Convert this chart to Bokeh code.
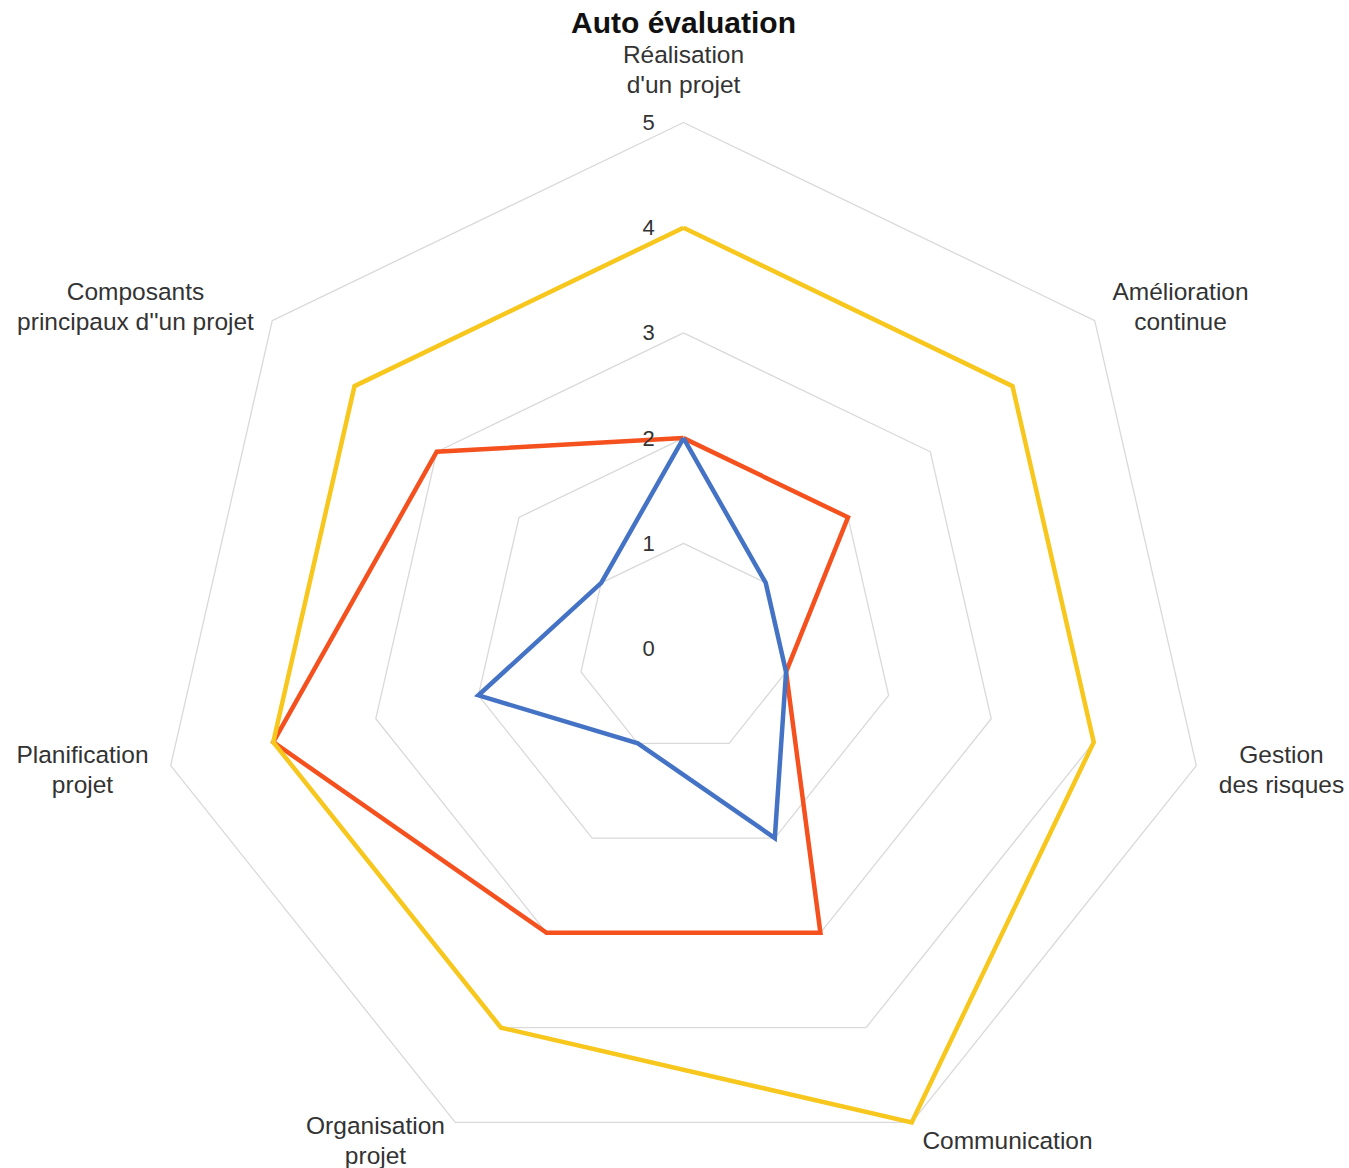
import math
from bokeh.plotting import figure
from bokeh.models import Range1d
from bokeh.core.properties import value
from bokeh.embed import file_html
from bokeh.resources import INLINE

# ---- data ----
categories = [
    "Réalisation\nd'un projet",
    "Amélioration\ncontinue",
    "Gestion\ndes risques",
    "Communication",
    "Organisation\nprojet",
    "Planification\nprojet",
    "Composants\nprincipaux d''un projet",
]
series_yellow = [4, 4, 4, 5, 4, 4, 4]
series_red = [2, 2, 1, 3, 3, 4, 3]
series_blue = [2, 1, 1, 2, 1, 2, 1]
tick_values = [0, 1, 2, 3, 4, 5]
tick_labels = ["0", "1", "2", "3", "4", "5"]
title_text = "Auto évaluation"

# ---- layout ----
W, H = 1349, 1168
CX, CY = 683.0, 648.0     # pixel position of the centre
UNIT = 105.2              # pixels per value unit

def px_to_data(px, py):
    return (px - CX) / UNIT, (CY - py) / UNIT

x0, y0 = px_to_data(0, 0)
x1, y1 = px_to_data(W, H)

p = figure(width=W, height=H, output_backend="svg", toolbar_location=None,
           x_range=Range1d(x0, x1), y_range=Range1d(y1, y0),
           min_border=0, outline_line_color=None, background_fill_color="white",
           border_fill_color="white")
p.axis.visible = False
p.xgrid.visible = False
p.ygrid.visible = False

n = len(categories)
angles = [2 * math.pi * i / n for i in range(n)]

def polar(vals):
    xs = [v * math.sin(a) for v, a in zip(vals, angles)]
    ys = [v * math.cos(a) for v, a in zip(vals, angles)]
    return xs + xs[:1], ys + ys[:1]

# grid heptagons
for tv in tick_values[1:]:
    gx, gy = polar([tv] * n)
    p.line(gx, gy, line_color="#D9D9D9", line_width=1.3)

# series
for vals, col in [(series_red, "#F4511E"), (series_blue, "#4472C4"), (series_yellow, "#F7C71E")]:
    sx, sy = polar(vals)
    p.line(sx, sy, line_color=col, line_width=4.5, line_join="miter")

# tick labels (left of the vertical spoke)
tick_dx = -35 / UNIT
p.text(x=[tick_dx] * len(tick_values), y=tick_values, text=tick_labels,
       text_font=value("Liberation Sans"), text_font_size="22px", text_color="#333333",
       text_align="center", text_baseline="middle")

# category labels: pixel anchors (centre of first line)
label_anchor_px = [(683, 54), (1180, 291), (1281, 754), (1007, 1140),
                   (375, 1125), (82, 754), (135, 291)]
line_gap = 29.5
lx, ly, lt = [], [], []
for cat, (ax, ay) in zip(categories, label_anchor_px):
    for k, line in enumerate(cat.split("\n")):
        dx, dy = px_to_data(ax, ay + k * line_gap)
        lx.append(dx); ly.append(dy); lt.append(line)
p.text(x=lx, y=ly, text=lt, text_font=value("Liberation Sans"), text_font_size="24.5px",
       text_color="#333333", text_align="center", text_baseline="middle")

# title
tx, ty = px_to_data(683, 22)
p.text(x=[tx], y=[ty], text=[title_text], text_font=value("Liberation Sans"),
       text_font_size="30px", text_font_style="bold", text_color="#111111",
       text_align="center", text_baseline="middle")

open("out.html", "w").write(file_html(p, INLINE))
